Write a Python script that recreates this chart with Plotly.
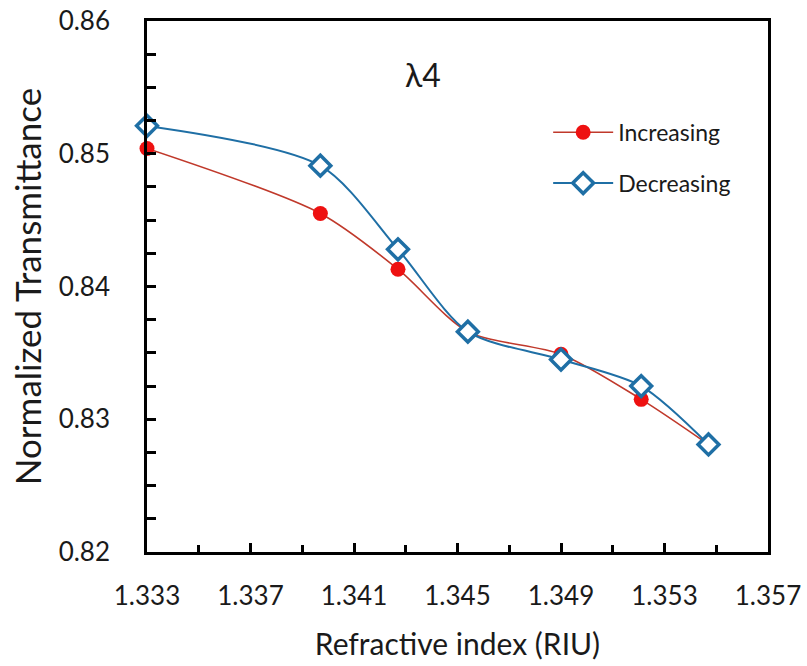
import plotly.graph_objects as go

ri = [1.333, 1.3397, 1.3427, 1.3454, 1.3490, 1.3521, 1.3547]
increasing = [0.8504, 0.8455, 0.8413, 0.8366, 0.8349, 0.8315, 0.8281]
decreasing = [0.8521, 0.8491, 0.8428, 0.8366, 0.8345, 0.8325, 0.8281]
x_ticks = [1.333, 1.337, 1.341, 1.345, 1.349, 1.353, 1.357]
y_ticks = [0.82, 0.83, 0.84, 0.85, 0.86]

FONT = "Lato"
TXT = "#1a1a1a"

fig = go.Figure()
fig.add_trace(go.Scatter(
    x=ri, y=increasing, name="Increasing", mode="lines+markers", legendgroup="a",
    line=dict(color="#c0392b", width=1.6, shape="spline", smoothing=0.8),
    marker=dict(symbol="circle", size=15, color="#ee1111", line=dict(width=0)),
    cliponaxis=False,
))
fig.add_trace(go.Scatter(
    x=ri, y=decreasing, name="Decreasing", mode="lines+markers", legendgroup="b",
    line=dict(color="#1f6fa5", width=2, shape="spline", smoothing=0.8),
    marker=dict(symbol="diamond", size=16, color="white", line=dict(width=3.5, color="#1f6fa5")),
    cliponaxis=False,
))

fig.add_annotation(
    x=(423 - 147) / 621, y=(552 - 74) / 531, xref="paper", yref="paper", text="λ4", showarrow=False,
    font=dict(family=FONT, size=32, color=TXT), xanchor="center", yanchor="middle",
)

fig.update_layout(
    width=807, height=666,
    margin=dict(l=147, r=39, t=21, b=114, autoexpand=False),
    paper_bgcolor="white", plot_bgcolor="white",
    font=dict(family=FONT, color=TXT),
    showlegend=True,
    legend=dict(
        x=0.646, y=0.831, xanchor="left", yanchor="top",
        font=dict(family=FONT, size=23, color=TXT),
        bgcolor="rgba(0,0,0,0)", itemwidth=60, traceorder="grouped", tracegroupgap=18,
    ),
    xaxis=dict(
        range=[1.333, 1.357], tickvals=x_ticks,
        ticktext=[f"{v:.3f}" for v in x_ticks],
        ticks="inside", ticklen=9, tickwidth=2.5, tickcolor="black",
        minor=dict(dtick=0.002, tick0=1.333, ticks="inside", ticklen=7, tickwidth=2.5, tickcolor="black", showgrid=False),
        showline=True, linecolor="black", linewidth=2.5, mirror=True,
        showgrid=False, zeroline=False, automargin=False, ticklabeloverflow="allow",
        tickfont=dict(family=FONT, size=26, color=TXT),
        ticklabelstandoff=19,
        title=dict(text="Refractive index (RIU)", font=dict(family=FONT, size=30, color=TXT), standoff=25),
    ),
    yaxis=dict(
        range=[0.82, 0.86], tickvals=y_ticks,
        ticktext=[f"{v:.2f}" for v in y_ticks],
        ticks="inside", ticklen=9, tickwidth=2.5, tickcolor="black",
        minor=dict(dtick=0.0025, tick0=0.82, ticks="inside", ticklen=9, tickwidth=2.5, tickcolor="black", showgrid=False),
        showline=True, linecolor="black", linewidth=2.5, mirror=True,
        showgrid=False, zeroline=False, automargin=False, ticklabeloverflow="allow",
        tickfont=dict(family=FONT, size=26, color=TXT),
        ticklabelstandoff=29,
        title=dict(text="Normalized Transmittance", font=dict(family=FONT, size=35, color=TXT), standoff=7),
    ),
)

fig.write_html("out.html", config={"displayModeBar": False},
               post_script="document.body.style.margin='0px';")
